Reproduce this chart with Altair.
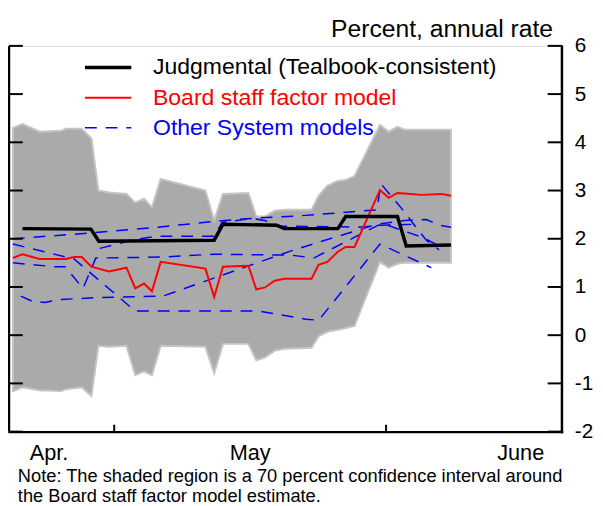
import altair as alt
import pandas as pd

# ---------------- data (x = days from the left edge of the window, y = percent, annual rate)
band_day = [0.45, 1.54, 3.49, 5.96, 6.5, 7.4, 8.3, 9.4, 10.2, 11.4, 13.4, 14.4, 15.4, 16.3,
            17.3, 22.4, 23.4, 24.4, 27.3, 28.2, 29.2, 30.3, 31.4, 34.5, 35.3, 36.3, 37.5,
            38.4, 39.4, 42.3, 43.3, 44.3, 45.1, 47.0, 49.3, 50.4]
factor_model = [1.60, 1.68, 1.58, 1.58, 1.58, 1.62, 1.62, 1.42, 1.38, 1.32, 1.40, 0.97, 1.07,
                0.91, 1.52, 1.38, 0.79, 1.42, 1.44, 0.95, 0.99, 1.13, 1.17, 1.17, 1.46, 1.52,
                1.73, 1.83, 1.83, 3.01, 2.85, 2.95, 2.94, 2.91, 2.93, 2.89]
band_low = [-1.16, -1.08, -1.14, -1.16, -1.12, -1.10, -1.08, -1.26, -0.22, -0.24, -0.22, -0.83,
            -0.75, -0.83, -0.22, -0.24, -0.79, -0.18, -0.18, -0.52, -0.46, -0.32, -0.28, -0.26,
            -0.02, 0.07, 0.11, 0.15, 0.19, 1.52, 1.40, 1.48, 1.50, 1.50, 1.50, 1.50]
band_high = [4.30, 4.38, 4.22, 4.24, 4.28, 4.28, 4.28, 4.08, 3.00, 2.96, 2.93, 2.75, 2.83, 2.65,
             3.24, 3.00, 2.38, 2.93, 2.95, 2.46, 2.46, 2.58, 2.60, 2.60, 2.89, 3.10, 3.20, 3.22,
             3.30, 4.36, 4.22, 4.32, 4.26, 4.26, 4.26, 4.26]

judg_day = [1.54, 9.34, 10.24, 23.4, 24.4, 30.5, 31.4, 37.5, 38.4, 44.3, 45.3, 50.4]
judg_val = [2.21, 2.20, 1.95, 1.97, 2.30, 2.28, 2.21, 2.21, 2.46, 2.46, 1.85, 1.87]

m1_day = [0.45, 9.34, 16.99, 23.4, 28.24, 32.74, 37.8, 41.96, 42.41, 44.77, 46.24, 47.59, 49.05]
m1_val = [2.00, 2.12, 2.24, 2.36, 2.43, 2.47, 2.54, 2.60, 3.14, 2.63, 2.28, 1.97, 1.77]
m2_day = [0.45, 7.42, 14.4, 28.46, 31.05, 33.86, 35.32, 42.3, 48.15]
m2_val = [1.89, 1.58, 0.50, 0.50, 0.42, 0.33, 0.31, 1.89, 1.40]
m3_day = [0.45, 5.17, 6.41, 8.44, 9.9, 17.32, 23.4, 32.17, 34.76, 42.52, 47.13, 49.61]
m3_val = [1.50, 1.42, 1.42, 0.97, 1.60, 1.62, 1.68, 1.66, 1.60, 2.32, 2.03, 1.80]
m4_day = [10.35, 14.51, 16.76, 23.4, 24.3, 27.67, 29.14, 31.05, 32.74, 39.82, 42.3, 46.24]
m4_val = [1.80, 1.99, 2.05, 2.05, 2.34, 2.42, 2.38, 2.26, 2.26, 2.24, 2.28, 2.30]
m5_day = [1.35, 2.7, 4.05, 5.85, 10.24, 17.55, 32.51, 41.96, 45.11, 47.59, 49.05, 50.4]
m5_val = [0.81, 0.70, 0.68, 0.74, 0.78, 0.81, 1.77, 2.30, 2.38, 2.40, 2.28, 2.24]

month_tick_days = [12, 43]
month_label_days = [4.5, 27.45, 58.3]
month_labels = ["Apr.", "May", "June"]
y_ticks = [-2, -1, 0, 1, 2, 3, 4, 5, 6]

legend_labels = ["Judgmental (Tealbook-consistent)", "Board staff factor model",
                 "Other System models"]
legend_colors = ["#000000", "#ff0000", "#0000ff"]
note_lines = ["Note: The shaded region is a 70 percent confidence interval around",
              "the Board staff factor model estimate."]
y_title = "Percent, annual rate"

# ---------------- tables
band_df = pd.DataFrame({"day": band_day, "lo": band_low, "hi": band_high, "val": factor_model})
judg_df = pd.DataFrame({"day": judg_day, "val": judg_val})
others = []
for name, ds, vs in [("m1", m1_day, m1_val), ("m2", m2_day, m2_val), ("m3", m3_day, m3_val),
                     ("m4", m4_day, m4_val), ("m5", m5_day, m5_val)]:
    others.append(pd.DataFrame({"day": ds, "val": vs, "model": name}))
other_df = pd.concat(others, ignore_index=True)
one = pd.DataFrame({"a": [0]})

# ---------------- layout
W, H = 560, 391
FONT = "Liberation Sans"
TICK = 14

xs = alt.Scale(domain=[0, 63], nice=False, zero=False)
ys = alt.Scale(domain=[-2, 6], nice=False, zero=False)

label_map = "{" + ",".join(f"'{d}':'{l}'" for d, l in zip(month_label_days, month_labels)) + "}"
xaxis = alt.Axis(values=month_label_days, labelExpr=label_map + "[datum.value]",
                 ticks=False, tickSize=0, grid=False, domainColor="black", domainWidth=2.5,
                 domainCap="square", labelFontSize=22, labelPadding=21,
                 labelBaseline="middle", labelColor="black", labelFont=FONT,
                 labelFlush=False, labelOverlap=False, title=None)
yaxis = alt.Axis(orient="right", values=y_ticks, labelExpr="'' + datum.value", ticks=False,
                 tickSize=0, grid=False, domainColor="black", domainWidth=2.5,
                 domainCap="square", labelFontSize=21, labelAlign="left",
                 labelBaseline="middle", labelPadding=13, labelColor="black", labelFont=FONT,
                 labelFlush=False, labelOverlap=False,
                 title=y_title, titleAngle=0, titleAlign="right", titleBaseline="middle",
                 titleX=-9, titleY=-18, titleFontSize=25, titleFontWeight="normal",
                 titleColor="black", titleFont=FONT)


def X(f):
    return alt.X(f, type="quantitative", scale=xs, axis=xaxis)


def Y(f):
    return alt.Y(f, type="quantitative", scale=ys, axis=yaxis)


band = alt.Chart(band_df).mark_area(color="#aaaaaa", stroke="#c4c4c4", strokeWidth=2,
                                    opacity=1).encode(x=X("day"), y=Y("lo"), y2="hi")
other_lines = alt.Chart(other_df).mark_line(color="#0000ff", strokeWidth=1.5,
                                            strokeDash=[12, 9]).encode(
    x=X("day"), y=Y("val"), detail="model:N")
red_line = alt.Chart(band_df).mark_line(color="#ff0000", strokeWidth=2).encode(
    x=X("day"), y=Y("val"))
black_line = alt.Chart(judg_df).mark_line(color="#000000", strokeWidth=3.5).encode(
    x=X("day"), y=Y("val"))

left_line = alt.Chart(one).mark_rule(color="black", strokeWidth=2.5).encode(
    x=alt.value(0), y=alt.value(0), y2=alt.value(H))
ytick_df = pd.DataFrame({"v": y_ticks})
left_ticks = alt.Chart(ytick_df).mark_rule(color="black", strokeWidth=2).encode(
    y=Y("v"), x=alt.value(0), x2=alt.value(TICK))
right_ticks = alt.Chart(ytick_df).mark_rule(color="black", strokeWidth=2).encode(
    y=Y("v"), x=alt.value(W - TICK), x2=alt.value(W))
bottom_ticks = alt.Chart(pd.DataFrame({"d": month_tick_days})).mark_rule(
    color="black", strokeWidth=2).encode(x=X("d"), y=alt.value(H), y2=alt.value(H - 7))

layers = [band, other_lines, red_line, black_line, left_line, left_ticks, right_ticks,
          bottom_ticks]

for i, (lab, col) in enumerate(zip(legend_labels, legend_colors)):
    yy = 22 + 30.5 * i
    kw = {"color": col, "strokeWidth": [3.5, 2, 1.5][i]}
    if i == 2:
        kw["strokeDash"] = [12, 9]
    layers.append(alt.Chart(one).mark_rule(**kw).encode(
        x=alt.value(77), x2=alt.value(124), y=alt.value(yy)))
    layers.append(alt.Chart(one).mark_text(align="left", baseline="middle", fontSize=23.3,
                                           color=col, font=FONT).encode(
        x=alt.value(146), y=alt.value(yy), text=alt.value(lab)))

for i, line in enumerate(note_lines):
    layers.append(alt.Chart(one).mark_text(align="left", baseline="middle", fontSize=18.5,
                                           color="black", font=FONT).encode(
        x=alt.value(9), y=alt.value(436.5 + 19.5 * i), text=alt.value(line)))

chart = alt.layer(*layers).properties(
    width=W, height=H,
    padding={"left": 1, "top": 35, "right": 34, "bottom": 72},
    autosize=alt.AutoSizeParams(type="none"),
).configure_view(stroke=None).configure(font=FONT)

chart.save("out.html", embed_options={"renderer": "svg", "actions": False})
